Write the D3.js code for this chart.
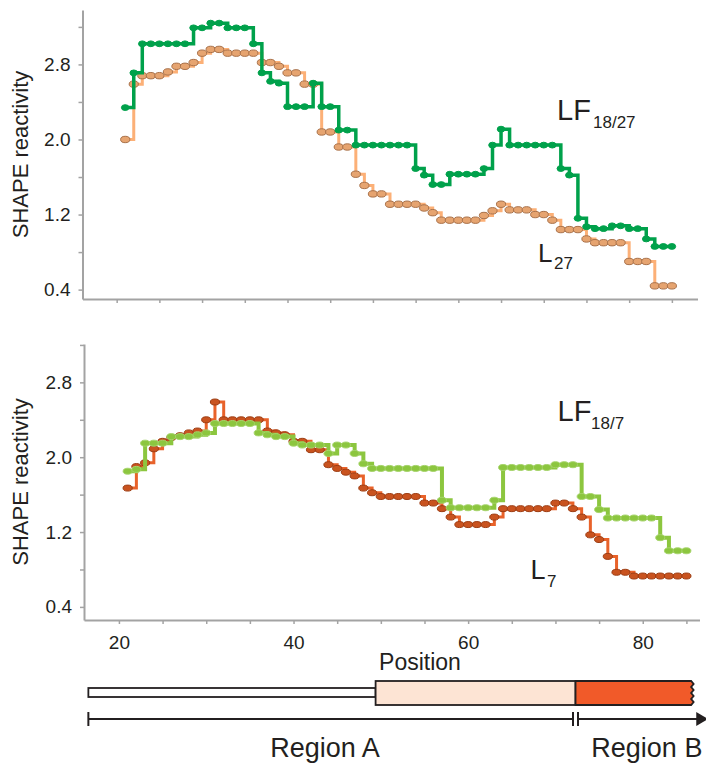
<!DOCTYPE html>
<html>
<head>
<meta charset="utf-8">
<script src="https://cdn.jsdelivr.net/npm/d3@7"></script>
<style>
  body { margin: 0; background: #fff; }
  svg text { font-family: "Liberation Sans", Arial, sans-serif; fill: #231f20; }
</style>
</head>
<body>
<div id="chart"></div>
<script>
// nucleotide positions
const positions = [21, 22, 23, 24, 25, 26, 27, 28, 29, 30, 31, 32, 33, 34, 35, 36, 37, 38, 39, 40,
  41, 42, 43, 44, 45, 46, 47, 48, 49, 50, 51, 52, 53, 54, 55, 56, 57, 58, 59, 60,
  61, 62, 63, 64, 65, 66, 67, 68, 69, 70, 71, 72, 73, 74, 75, 76, 77, 78, 79, 80,
  81, 82, 83, 84, 85];

// top panel
const lf1827 = [2.34, 2.71, 3.02, 3.02, 3.02, 3.02, 3.02, 3.02, 3.19, 3.19, 3.24, 3.24, 3.19, 3.19, 3.19, 3.02, 2.71, 2.62, 2.60, 2.35,
  2.35, 2.35, 2.60, 2.35, 2.35, 2.10, 2.10, 1.94, 1.94, 1.94, 1.94, 1.94, 1.94, 1.94, 1.69, 1.62, 1.52, 1.52, 1.63, 1.63,
  1.63, 1.63, 1.69, 1.94, 2.11, 1.94, 1.94, 1.94, 1.94, 1.94, 1.94, 1.69, 1.62, 1.16, 1.07, 1.05, 1.05, 1.08, 1.08, 1.05,
  1.05, 0.94, 0.86, 0.86, 0.86];
const l27 = [2.00, 2.59, 2.68, 2.68, 2.68, 2.72, 2.78, 2.78, 2.82, 2.92, 2.96, 2.96, 2.92, 2.92, 2.92, 2.92, 2.82, 2.82, 2.78, 2.71,
  2.71, 2.59, 2.59, 2.08, 2.08, 1.92, 1.92, 1.63, 1.51, 1.42, 1.42, 1.31, 1.31, 1.31, 1.31, 1.27, 1.22, 1.14, 1.14, 1.14,
  1.14, 1.14, 1.19, 1.24, 1.31, 1.25, 1.25, 1.25, 1.20, 1.20, 1.14, 1.04, 1.04, 1.04, 0.94, 0.90, 0.90, 0.90, 0.90, 0.70,
  0.70, 0.70, 0.44, 0.44, 0.44];

// bottom panel
const lf187 = [1.85, 1.87, 2.15, 2.15, 2.15, 2.22, 2.22, 2.22, 2.24, 2.26, 2.36, 2.36, 2.36, 2.36, 2.36, 2.26, 2.24, 2.22, 2.22, 2.15,
  2.13, 2.13, 2.13, 2.04, 2.13, 2.13, 2.04, 1.93, 1.88, 1.88, 1.88, 1.88, 1.88, 1.88, 1.88, 1.88, 1.54, 1.46, 1.46, 1.46,
  1.46, 1.46, 1.54, 1.89, 1.89, 1.89, 1.89, 1.89, 1.89, 1.92, 1.92, 1.92, 1.58, 1.58, 1.44, 1.35, 1.35, 1.35, 1.35, 1.35,
  1.35, 1.14, 1.00, 1.00, 1.00];
const l7 = [1.67, 1.90, 1.94, 2.09, 2.17, 2.21, 2.23, 2.26, 2.28, 2.40, 2.59, 2.40, 2.40, 2.40, 2.40, 2.40, 2.28, 2.26, 2.24, 2.17,
  2.17, 2.08, 2.08, 1.92, 1.88, 1.84, 1.80, 1.67, 1.62, 1.58, 1.58, 1.58, 1.58, 1.58, 1.51, 1.51, 1.45, 1.36, 1.28, 1.28,
  1.28, 1.28, 1.36, 1.45, 1.45, 1.45, 1.45, 1.45, 1.45, 1.51, 1.51, 1.45, 1.36, 1.17, 1.12, 0.94, 0.77, 0.77, 0.73, 0.73,
  0.73, 0.73, 0.73, 0.73, 0.73];

const yTicks = [0.4, 0.8, 1.2, 1.6, 2.0, 2.4, 2.8, 3.2];
const yLabels = [0.4, 1.2, 2.0, 2.8];
const xTicks = [20, 25, 30, 35, 40, 45, 50, 55, 60, 65, 70, 75, 80, 85];
const xLabels = [20, 40, 60, 80];

// sequence diagram: [start, end] in position units
const segWhite = [16.5, 49.4];
const segPeach = [49.4, 72.3];
const segRed = [72.3, 86];
const regions = [
  { name: "Region A", start: 16.5, end: 72.3 },
  { name: "Region B", start: 72.3, end: 87.5 }
];

const svg = d3.select('#chart').append('svg')
  .attr('width', 706)
  .attr('height', 767);

function drawPanel(p) {
  const x = d3.scaleLinear().domain(p.xDomain).range(p.xRange);
  const y = d3.scaleLinear().domain(p.yDomain).range(p.yRange);
  const g = svg.append('g');

  // axes
  const yAxis = d3.axisLeft(y)
    .tickValues(yTicks)
    .tickSize(4)
    .tickSizeOuter(0)
    .tickPadding(8)
    .tickFormat(d => yLabels.some(v => Math.abs(v - d) < 1e-6) ? d3.format('.1f')(d) : '');
  const gy = g.append('g')
    .attr('transform', `translate(${p.xRange[0]},0)`)
    .call(yAxis);

  const xAxis = d3.axisBottom(x)
    .tickValues(xTicks)
    .tickSize(4)
    .tickSizeOuter(0)
    .tickPadding(12)
    .tickFormat(d => p.xLabels && xLabels.includes(d) ? d : '');
  const gx = g.append('g')
    .attr('transform', `translate(0,${p.yRange[0]})`)
    .call(xAxis);

  [gx, gy].forEach(a => {
    a.select('.domain').attr('stroke', '#a3a3a3').attr('stroke-width', 2);
    a.selectAll('.tick line').attr('stroke', '#a3a3a3').attr('stroke-width', 1.5);
    a.selectAll('.tick text')
      .attr('font-size', 19)
      .attr('fill', '#231f20')
      .attr('font-family', '"Liberation Sans", Arial, sans-serif');
  });

  // y title
  g.append('text')
    .attr('transform', `translate(28,${(p.yRange[0] + p.yRange[1]) / 2}) rotate(-90)`)
    .attr('text-anchor', 'middle')
    .attr('font-size', 22)
    .text('SHAPE reactivity');

  const line = d3.line()
    .x(d => x(d.pos))
    .y(d => y(d.val))
    .curve(d3.curveStepAfter);

  p.series.forEach(s => {
    const data = positions.map((pos, i) => ({ pos: pos, val: s.values[i] }));
    g.append('path')
      .datum(data)
      .attr('fill', 'none')
      .attr('stroke', s.line)
      .attr('stroke-width', s.width)
      .attr('d', line);
    g.selectAll(null)
      .data(data)
      .join('ellipse')
      .attr('cx', d => x(d.pos))
      .attr('cy', d => y(d.val))
      .attr('rx', s.rx)
      .attr('ry', s.ry)
      .attr('fill', s.fill)
      .attr('stroke', s.stroke)
      .attr('stroke-width', 1);
  });

  // series labels with subscripts
  p.labels.forEach(l => {
    g.append('text').attr('x', l.x).attr('y', l.y)
      .attr('font-size', l.size).text(l.main);
    g.append('text').attr('x', l.sx).attr('y', l.sy)
      .attr('font-size', 17).text(l.sub);
  });

  return x;
}

drawPanel({
  xDomain: [16, 88], xRange: [82.5, 697.5],
  yDomain: [0.3, 3.38], yRange: [299, 10],
  xLabels: false,
  series: [
    { values: l27, line: '#fcb077', width: 3, fill: '#e6a470', stroke: '#a8714a', rx: 4.6, ry: 3.2 },
    { values: lf1827, line: '#00a14b', width: 3.5, fill: '#00a14b', stroke: '#00a14b', rx: 3.8, ry: 2.9 }
  ],
  labels: [
    { main: 'LF', sub: '18/27', x: 557, y: 119.5, size: 29, sx: 593, sy: 128 },
    { main: 'L', sub: '27', x: 538, y: 262, size: 26, sx: 554, sy: 269 }
  ]
});

const xb = drawPanel({
  xDomain: [16, 86.5], xRange: [84, 699.5],
  yDomain: [0.26, 3.21], yRange: [620, 344],
  xLabels: true,
  series: [
    { values: l7, line: '#e8622a', width: 3, fill: '#c9531f', stroke: '#9c3c12', rx: 4.6, ry: 3 },
    { values: lf187, line: '#8cc63f', width: 4, fill: '#8cc63f', stroke: '#a6d46b', rx: 4.5, ry: 3 }
  ],
  labels: [
    { main: 'LF', sub: '18/7', x: 557.5, y: 420.5, size: 29, sx: 591, sy: 429 },
    { main: 'L', sub: '7', x: 530.5, y: 579, size: 27, sx: 547, sy: 587 }
  ]
});

svg.append('text')
  .attr('x', 420).attr('y', 670)
  .attr('text-anchor', 'middle')
  .attr('font-size', 23)
  .text('Position');

// sequence diagram
const dg = svg.append('g');
dg.append('rect')
  .attr('x', xb(segWhite[0])).attr('y', 688)
  .attr('width', xb(segWhite[1]) - xb(segWhite[0])).attr('height', 9)
  .attr('fill', '#fff').attr('stroke', '#231f20').attr('stroke-width', 1.8);
dg.append('rect')
  .attr('x', xb(segPeach[0])).attr('y', 681)
  .attr('width', xb(segPeach[1]) - xb(segPeach[0])).attr('height', 24)
  .attr('fill', '#fde4d4').attr('stroke', '#231f20').attr('stroke-width', 1.8);

// red block with a torn right edge
const rx0 = xb(segRed[0]), rx1 = xb(segRed[1]) - 4;
const torn = [[rx0, 681], [rx1, 681]];
for (let k = 0; k < 8; k++) {
  torn.push([rx1 + (k % 2 === 0 ? 2.5 : 0), 681 + (k + 1) * 3]);
}
torn.push([rx1, 705], [rx0, 705]);
dg.append('path')
  .attr('d', d3.line()(torn) + 'Z')
  .attr('fill', '#f15a29').attr('stroke', '#231f20').attr('stroke-width', 1.8);

// region arrow
const ay = 719;
const aStart = xb(regions[0].start), aMid = xb(regions[0].end), aEnd = xb(regions[1].end);
dg.append('line').attr('x1', aStart).attr('x2', aMid - 2.5).attr('y1', ay).attr('y2', ay)
  .attr('stroke', '#231f20').attr('stroke-width', 2);
dg.append('line').attr('x1', aMid + 2.5).attr('x2', aEnd - 10).attr('y1', ay).attr('y2', ay)
  .attr('stroke', '#231f20').attr('stroke-width', 2);
[aStart, aMid - 2.5, aMid + 2.5].forEach(xx => {
  dg.append('line').attr('x1', xx).attr('x2', xx).attr('y1', ay - 7).attr('y2', ay + 7)
    .attr('stroke', '#231f20').attr('stroke-width', 2);
});
dg.append('path')
  .attr('d', `M${aEnd - 12},${ay - 7}L${aEnd},${ay}L${aEnd - 12},${ay + 7}Z`)
  .attr('fill', '#231f20');

// region names, slightly left of the span centres as in the figure
regions.forEach((r, i) => {
  dg.append('text')
    .attr('x', (xb(r.start) + xb(r.end)) / 2 + (i === 0 ? -7 : 5))
    .attr('y', 757)
    .attr('text-anchor', 'middle')
    .attr('font-size', 27)
    .text(r.name);
});
</script>
</body>
</html>
